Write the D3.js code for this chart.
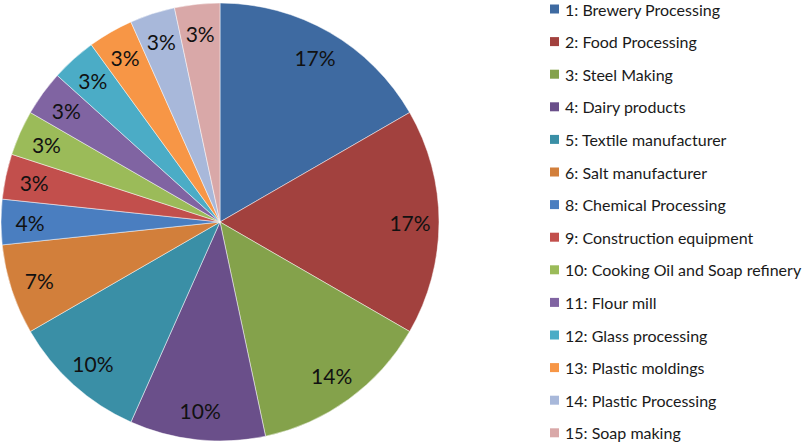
<!DOCTYPE html>
<html>
<head>
<meta charset="utf-8">
<script src="https://cdn.jsdelivr.net/npm/d3@7"></script>
<style>
  html, body { margin: 0; padding: 0; background: #ffffff; }
  svg { display: block; font-family: Lato, "Open Sans", sans-serif; }
</style>
</head>
<body>
<svg id="chart" width="809" height="444"></svg>
<script>
// Categories (legend order)
const categories = [
  "1: Brewery Processing",
  "2: Food Processing",
  "3: Steel Making",
  "4: Dairy products",
  "5: Textile manufacturer",
  "6: Salt manufacturer",
  "8: Chemical Processing",
  "9: Construction equipment",
  "10: Cooking Oil and Soap refinery",
  "11: Flour mill",
  "12: Glass processing",
  "13: Plastic moldings",
  "14: Plastic Processing",
  "15: Soap making"
];
// Slice sizes (each small slice ~12 degrees)
const values = [5, 5, 4, 3, 3, 2, 1, 1, 1, 1, 1, 1, 1, 1];
// Data labels as printed on the slices
const pctLabels = ["17%", "17%", "14%", "10%", "10%", "7%", "4%", "3%", "3%", "3%", "3%", "3%", "3%", "3%"];
const colors = [
  "#3e6aa1", "#a2413e", "#84a24b", "#6a4f8a", "#3a8fa6", "#d27f3b",
  "#4a7ec0", "#c24f4c", "#9bbb59", "#8064a2", "#4bacc6", "#f79646",
  "#a8b8da", "#d9a8a8"
];

const svg = d3.select("#chart");
const cx = 220, cy = 222, R = 219, labelR = 190;

const pie = d3.pie().sort(null).value(d => d);
const arcs = pie(values);
const arc = d3.arc().innerRadius(0).outerRadius(R);
const labelArc = d3.arc().innerRadius(labelR).outerRadius(labelR);

const g = svg.append("g").attr("transform", `translate(${cx},${cy})`);

g.selectAll("path.slice")
  .data(arcs)
  .join("path")
  .attr("class", "slice")
  .attr("d", arc)
  .attr("fill", (d, i) => colors[i])
  .attr("stroke", "#ffffff")
  .attr("stroke-opacity", 0.6)
  .attr("stroke-width", 0.8);

g.selectAll("text.pct")
  .data(arcs)
  .join("text")
  .attr("class", "pct")
  .attr("transform", d => `translate(${labelArc.centroid(d)})`)
  .attr("text-anchor", "middle")
  .attr("dominant-baseline", "central")
  .attr("font-size", 21)
  .attr("fill", "#111111")
  .text((d, i) => pctLabels[i]);

// Legend
const legendX = 550, legendY0 = 9, legendStep = 32.6;
const color = d3.scaleOrdinal().domain(categories).range(colors);
const legend = svg.append("g");
const items = legend.selectAll("g.item")
  .data(categories)
  .join("g")
  .attr("class", "item")
  .attr("transform", (d, i) => `translate(${legendX},${legendY0 + i * legendStep})`);
items.append("rect")
  .attr("x", 0).attr("y", -4.5)
  .attr("width", 9).attr("height", 9)
  .attr("fill", d => color(d));
items.append("text")
  .attr("x", 15)
  .attr("y", 0)
  .attr("dominant-baseline", "central")
  .attr("font-size", 16)
  .attr("fill", "#1a1a1a")
  .text(d => d);
</script>
</body>
</html>
